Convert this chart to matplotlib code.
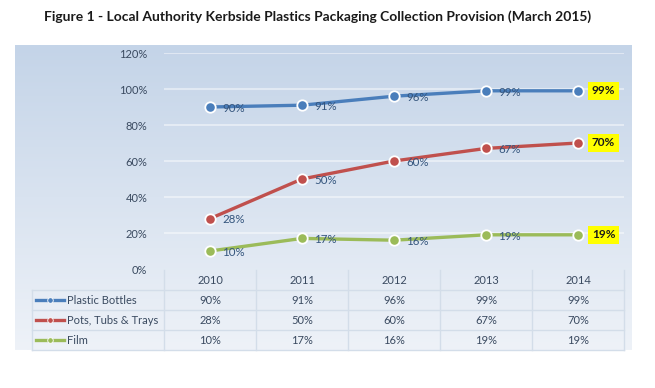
import matplotlib
matplotlib.use("Agg")
import matplotlib.pyplot as plt
import numpy as np
from matplotlib.transforms import blended_transform_factory
from matplotlib.lines import Line2D

years = ["2010", "2011", "2012", "2013", "2014"]
series_names = ["Plastic Bottles", "Pots, Tubs & Trays", "Film"]
bottles = [90, 91, 96, 99, 99]
pots = [28, 50, 60, 67, 70]
film = [10, 17, 16, 19, 19]
series_values = [bottles, pots, film]
colors = ["#4a7ebb", "#c0504d", "#9bbb59"]
yticks = [0, 20, 40, 60, 80, 100, 120]
title = "Figure 1 - Local Authority Kerbside Plastics Packaging Collection Provision (March 2015)"

W, H = 655, 388
fig = plt.figure(figsize=(W / 100, H / 100), dpi=100)
fig.patch.set_facecolor("white")

# overlay axes in pixel coordinates
ov = fig.add_axes([0, 0, 1, 1], zorder=0)
ov.set_xlim(0, W)
ov.set_ylim(H, 0)
ov.axis("off")

# gradient background of chart area
grad = np.linspace(0, 1, 256)[:, None]
top = np.array([196, 212, 232]) / 255
bot = np.array([238, 242, 248]) / 255
img = top[None, None, :] * (1 - grad[:, :, None]) + bot[None, None, :] * grad[:, :, None]
ov.imshow(img, extent=[15, 632, 350, 45], aspect="auto", zorder=0)

FONT = "Lato"
txt_col = "#3a4a60"

ax_l, ax_r, ax_t, ax_b = 164, 624, 53, 269
ax = fig.add_axes([ax_l / W, (H - ax_b) / H, (ax_r - ax_l) / W, (ax_b - ax_t) / H], zorder=2)
ax.patch.set_alpha(0)
x = np.arange(len(years))
ax.set_xlim(-0.5, len(years) - 0.5)
ax.set_ylim(0, 120)
for s in ax.spines.values():
    s.set_visible(False)
ax.set_yticks(yticks)
ax.set_yticklabels([f"{v}%" for v in yticks], fontsize=8, color=txt_col, family=FONT)
ax.tick_params(axis="y", length=0, pad=12)
ax.set_xticks([])
for v in yticks[1:]:
    ax.axhline(v, color="white", lw=1.5, alpha=0.45, zorder=1)

for vals, c in zip(series_values, colors):
    ax.plot(x, vals, color=c, lw=2.4, marker="o", ms=7.5, mfc=c, mec="white", mew=1.3,
            zorder=3, solid_capstyle="round", clip_on=False)
    for i, v in enumerate(vals):
        if i < len(vals) - 1:
            ax.annotate(f"{v}%", (x[i], v), xytext=(9, -1), textcoords="offset points",
                        ha="left", va="center", fontsize=8.3, color="#34557d", family=FONT, zorder=4)
        else:
            ax.annotate(f"{v}%", (x[i], v), xytext=(10, 0), textcoords="offset points",
                        ha="left", va="center", fontsize=8.5, fontweight="bold", color="#1a1a1a",
                        family=FONT, zorder=4,
                        bbox=dict(boxstyle="square,pad=0.3", fc="#ffff00", ec="none"))

# title
fig.text(0.485, 1 - 17 / H, title, ha="center", va="center", fontsize=10,
         fontweight="bold", family=FONT, color="#1a1a1a")

# data table
bt = blended_transform_factory(ax.transData, ov.transData)
grid_c = "#d3dde9"
row_lines = [290, 310, 330, 350]
for yy in row_lines:
    ov.plot([32, 624], [yy, yy], color=grid_c, lw=1, zorder=2)
ov.plot([32, 32], [290, 350], color=grid_c, lw=1, zorder=2)
for b in np.arange(len(years) + 1) - 0.5:
    ax_line = Line2D([b, b], [270, 350], color=grid_c, lw=1, transform=bt, zorder=2)
    ov.add_line(ax_line)

for i, yr in enumerate(years):
    ov.text(x[i], 281, yr, transform=bt, ha="center", va="center", fontsize=8,
            color=txt_col, family=FONT, zorder=3)

row_y = [300, 320, 340]
for name, vals, c, ry in zip(series_names, series_values, colors, row_y):
    ov.plot([36, 64], [ry, ry], color=c, lw=2.4, zorder=3)
    ov.plot([50], [ry], marker="o", ms=4, color=c, mec="white", mew=0.6, zorder=4)
    ov.text(67, ry, name, ha="left", va="center", fontsize=8, color=txt_col, family=FONT, zorder=3)
    for i, v in enumerate(vals):
        ov.text(x[i], ry, f"{v}%", transform=bt, ha="center", va="center", fontsize=8,
                color=txt_col, family=FONT, zorder=3)

fig.savefig("out.png", dpi=100)
